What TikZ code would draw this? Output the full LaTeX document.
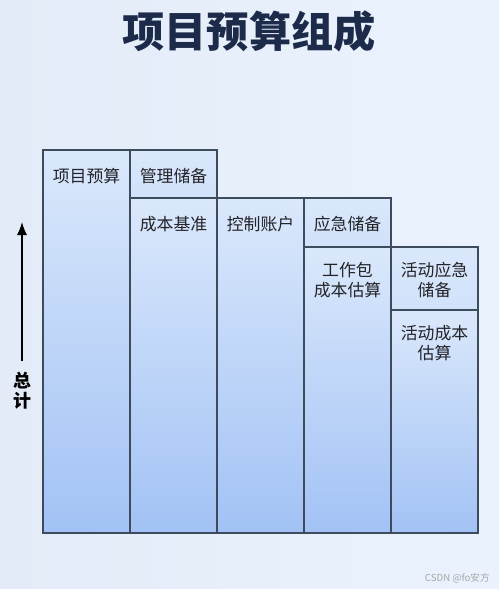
\documentclass[tikz,border=0pt]{standalone}
\usepackage{fontspec}
\setmainfont{Noto Sans CJK SC}
\usepackage{tikz}
\usetikzlibrary{positioning, arrows.meta}
\definecolor{bgleft}{RGB}{227,235,248}
\definecolor{bgright}{RGB}{234,243,253}
\definecolor{boxtop}{RGB}{218,232,251}
\definecolor{boxbot}{RGB}{162,194,245}
\definecolor{boxline}{RGB}{61,75,92}
\definecolor{titlecolor}{RGB}{28,43,74}
\definecolor{boxtext}{RGB}{35,35,40}

\begin{document}
\begin{tikzpicture}[
  col/.style={draw=boxline, line width=0.6pt, minimum width=1.74cm, inner sep=0pt,
              outer sep=0pt, anchor=north west, top color=boxtop, bottom color=boxbot},
  topbox/.style={col, bottom color=boxtop!82!boxbot},
  lbl/.style={anchor=north, yshift=-0.36cm, inner sep=0pt, align=center,
              text=boxtext, font=\fontsize{9.6pt}{11.2pt}\selectfont},
  lbltwo/.style={lbl, yshift=0.06cm},
  arr/.style={-{Latex[length=2.6mm, width=2mm]}, line width=0.8pt},
]
  \shade[left color=bgleft, right color=bgright] (0,0) rectangle (9.98,-11.78);
  \useasboundingbox (0,0) rectangle (9.98,-11.78);

  \node[text=titlecolor, font=\fontsize{24pt}{28pt}\selectfont\bfseries]
    (title) at (4.98,-0.62) {项目预算组成};

  % columns, left to right
  \node[col, minimum height=7.66cm, label={[lbl]north:项目预算}]
    (budget) at (0.86,-3.0) {};
  \node[topbox, minimum height=0.96cm, label={[lbl]north:管理储备},
        right=0pt of budget.north east, anchor=north west] (mgmt) {};
  \node[col, minimum height=6.70cm, label={[lbl]north:成本基准},
        below=0pt of mgmt.south west, anchor=north west] (baseline) {};
  \node[col, minimum height=6.70cm, label={[lbl]north:控制账户},
        right=0pt of baseline.north east, anchor=north west] (ctrl) {};
  \node[topbox, minimum height=0.98cm, label={[lbl]north:应急储备},
        right=0pt of ctrl.north east, anchor=north west] (cont) {};
  \node[col, minimum height=5.72cm, label={[lbltwo]north:{工作包\\成本估算}},
        below=0pt of cont.south west, anchor=north west] (wpcost) {};
  \node[topbox, minimum height=1.26cm, label={[lbltwo]north:{活动应急\\储备}},
        right=0pt of wpcost.north east, anchor=north west] (actcont) {};
  \node[col, minimum height=4.46cm, label={[lbltwo]north:{活动成本\\估算}},
        below=0pt of actcont.south west, anchor=north west] (actcost) {};

  % total axis
  \node[inner xsep=0pt, inner ysep=6.5pt, align=center, text=black,
        font=\fontsize{10.2pt}{11.4pt}\selectfont\bfseries]
    (total) at (0.44,-7.82) {总\\计};
  \coordinate (totaltop) at (0.44,-4.44);
  \draw[arr] (total.north) -- (totaltop);

  \node[anchor=east, text=gray!70, font=\fontsize{5.5pt}{6pt}\selectfont]
    (mark) at (9.92,-11.56) {CSDN @fo安方};
\end{tikzpicture}
\end{document}
